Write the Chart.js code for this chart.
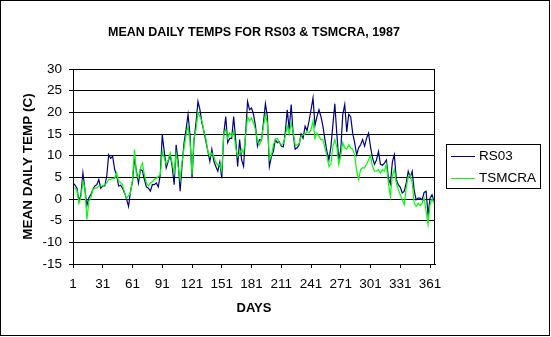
<!DOCTYPE html>
<html>
<head>
<meta charset="utf-8">
<script src="https://cdn.jsdelivr.net/npm/chart.js@4.4.0/dist/chart.umd.min.js"></script>
<style>
  html, body { margin: 0; padding: 0; background: #fff; }
  #wrap { position: relative; width: 551px; height: 337px; }
</style>
</head>
<body>
<div id="wrap"><canvas id="chart" width="551" height="337"></canvas></div>
<script>
// mean daily temps, every second day
const days = [
  1, 3, 5, 7, 9, 11, 13, 15, 17, 19, 21, 23, 25, 27, 29,
  31, 33, 35, 37, 39, 41, 43, 45, 47, 49, 51, 53, 55, 57, 59,
  61, 63, 65, 67, 69, 71, 73, 75, 77, 79, 81, 83, 85, 87, 89,
  91, 93, 95, 97, 99, 101, 103, 105, 107, 109, 111, 113, 115, 117, 119,
  121, 123, 125, 127, 129, 131, 133, 135, 137, 139, 141, 143, 145, 147, 149,
  151, 153, 155, 157, 159, 161, 163, 165, 167, 169, 171, 173, 175, 177, 179,
  181, 183, 185, 187, 189, 191, 193, 195, 197, 199, 201, 203, 205, 207, 209,
  211, 213, 215, 217, 219, 221, 223, 225, 227, 229, 231, 233, 235, 237, 239,
  241, 243, 245, 247, 249, 251, 253, 255, 257, 259, 261, 263, 265, 267, 269,
  271, 273, 275, 277, 279, 281, 283, 285, 287, 289, 291, 293, 295, 297, 299,
  301, 303, 305, 307, 309, 311, 313, 315, 317, 319, 321, 323, 325, 327, 329,
  331, 333, 335, 337, 339, 341, 343, 345, 347, 349, 351, 353, 355, 357, 359,
  361, 363, 365
];

const rs03 = [
  3.7, 3.2, 2.5, -0.5, 1, 6, 2.2, -1.5, 0.3, 1, 2.2, 3, 3.3, 4.5, 2.5,
  3, 3, 5.2, 10.2, 9.4, 9.8, 6.8, 5.5, 3, 3.2, 2.5, 1.4, 0, -1.7, 1.8,
  4, 9.5, 6.4, 3.7, 6.8, 6.5, 4.5, 2.8, 2.5, 1.8, 3.3, 3.3, 3.7, 2.8, 5.6,
  14.8, 11, 7.2, 8.7, 10.2, 7.5, 3.3, 12.5, 8.7, 1.8, 8, 13, 16, 19.5, 14.8,
  4.8, 13.5, 17.5, 22.5, 20.6, 17.5, 15.6, 13.3, 11, 8.7, 11.5, 8.7, 7.5, 6.4, 8.5,
  4.8, 15, 19, 13, 14, 14, 19, 13.7, 7.5, 13.7, 9, 7.5, 15, 22.5, 20.6,
  21, 19.5, 16.8, 12.2, 13.7, 13.5, 17.5, 22, 19, 7.5, 9.8, 11, 13.7, 13, 13.2,
  12.2, 12, 15.2, 20.6, 16, 21.8, 15, 11.5, 11.8, 12.5, 15, 14, 16.8, 15.8, 18,
  20.6, 23.3, 17, 19, 20.6, 19, 16.8, 13.7, 11, 9, 12, 17, 22, 15, 9,
  11.4, 19.5, 21.8, 15.5, 19.5, 19, 15.2, 13, 10.2, 11.8, 12.5, 13.7, 12.2, 14, 15.2,
  12, 9.5, 8, 9, 11, 8, 7.8, 8.3, 9, 4.8, 3.5, 8.5, 10.2, 4.5, 3.3,
  2.7, 1.4, 1.8, 3.7, 6.4, 5, 6.4, 2, -0.2, 0.2, 0.2, -0.2, 1.5, 1.8, -3.6,
  0.2, 1, -0.5
];

const tsmcra = [
  2.5, 2.5, 2, -1, 0.5, 4, 2.5, -4.8, -0.5, 0.3, 2.2, 2.5, 2.5, 3, 3,
  3, 3.3, 3.7, 4.5, 4.5, 4.7, 4.8, 6, 4, 3.8, 3.3, 1.4, 0.2, 0.8, 1.4,
  4.5, 11.4, 5.5, 4.8, 7.2, 8.3, 5.6, 3.7, 3, 3.7, 4, 4.5, 4.8, 5.2, 5.6,
  11, 9.5, 8, 9, 10.6, 8.3, 6, 10.6, 7.5, 4.5, 8.7, 11.8, 14.8, 16.8, 13.3,
  5.6, 14, 16, 20, 19, 18, 15.6, 14, 11, 9.8, 10.6, 9.8, 8.5, 7.8, 8,
  6.4, 15, 16, 14, 15.2, 14.5, 15.6, 12, 9.8, 10.5, 11.5, 10.6, 14.5, 19, 18,
  18.7, 17.5, 16, 13.3, 12.5, 13.7, 16.8, 19.5, 17.5, 9, 10, 12.5, 13.7, 14, 13,
  12.5, 12.8, 14.5, 16.8, 15, 17.5, 15.5, 12.5, 12.5, 12.8, 14.5, 14.8, 15, 15.6, 15.2,
  16, 18, 14, 15.2, 14.5, 13.7, 13.7, 11.8, 10, 7.5, 8, 12.2, 13.7, 12, 8,
  10, 13, 11.8, 11.5, 12.5, 11.8, 11.5, 10.2, 6.5, 4.5, 6.8, 7.2, 7.2, 8, 9,
  10, 7.5, 6.4, 6.4, 6.8, 6, 6.8, 6.4, 8, 3.7, 0.6, 5.5, 6.8, 3.7, 2.2,
  1, -0.2, -1.3, 2.5, 5.2, 5.5, 3.7, -1, -1.7, -1, -1.5, -1, 0.2, -2.8, -5.9,
  -1.3, 0, -1
];

const dayTicks = [1, 31, 61, 91, 121, 151, 181, 211, 241, 271, 301, 331, 361];
const tempTicks = [-15, -10, -5, 0, 5, 10, 15, 20, 25, 30];

const FONT = "'Liberation Sans', Arial, sans-serif";

// frame, plot box, main title and the boxed legend on the right
const chartFrame = {
  id: 'chartFrame',
  afterDraw(chart) {
    const ctx = chart.ctx;
    const a = chart.chartArea;
    ctx.save();
    ctx.strokeStyle = '#000';
    ctx.lineWidth = 1;
    ctx.strokeRect(0.5, 0.5, 549, 335);
    ctx.strokeRect(Math.round(a.left) + 0.5, Math.round(a.top) + 0.5,
      Math.round(a.right - a.left) - 1, Math.round(a.bottom - a.top));

    ctx.fillStyle = '#000';
    ctx.font = 'bold 12.5px ' + FONT;
    ctx.textAlign = 'center';
    ctx.textBaseline = 'middle';
    ctx.fillText('MEAN DAILY TEMPS FOR RS03 & TSMCRA, 1987', 254, 33);

    // legend
    ctx.strokeRect(446.5, 144.5, 94, 44);
    ctx.font = '13.5px ' + FONT;
    ctx.textAlign = 'left';
    const rows = [156, 178];
    chart.data.datasets.forEach((ds, i) => {
      const y = rows[i] + 0.5;
      ctx.strokeStyle = ds.borderColor;
      ctx.beginPath();
      ctx.moveTo(451, y);
      ctx.lineTo(475, y);
      ctx.stroke();
      ctx.fillText(ds.label, 479, rows[i] + 0.5);
    });
    ctx.restore();
  }
};

const toPoints = vals => days.map((d, i) => ({ x: d, y: vals[i] }));

new Chart(document.getElementById('chart'), {
  type: 'line',
  data: {
    datasets: [
      { label: 'RS03', data: toPoints(rs03), borderColor: '#000080', borderWidth: 1.2,
        pointRadius: 0, tension: 0, fill: false, order: 1 },
      { label: 'TSMCRA', data: toPoints(tsmcra), borderColor: '#00ff00', borderWidth: 1.2,
        pointRadius: 0, tension: 0, fill: false, order: 0 }
    ]
  },
  options: {
    responsive: false,
    animation: false,
    events: [],
    layout: { padding: { top: 69, right: 116, left: 0, bottom: 0 } },
    plugins: { legend: { display: false }, tooltip: { enabled: false }, title: { display: false } },
    scales: {
      x: {
        type: 'linear', min: 1, max: 366,
        afterBuildTicks: s => { s.ticks = dayTicks.map(v => ({ value: v })); },
        afterFit: s => { s.height = 73; },
        grid: { drawOnChartArea: false, drawTicks: true, tickLength: 4, color: '#000' },
        border: { display: true, color: '#000', width: 1 },
        ticks: { color: '#000', font: { family: FONT, size: 13.5 }, padding: 8,
                 maxRotation: 0, autoSkip: false },
        title: { display: true, text: 'DAYS', color: '#000',
                 font: { family: FONT, size: 13, weight: 'bold' }, padding: { top: 0, bottom: 21 } }
      },
      y: {
        min: -15, max: 30,
        afterBuildTicks: s => { s.ticks = tempTicks.map(v => ({ value: v })); },
        afterFit: s => { s.width = 73; },
        grid: { color: '#000', tickLength: 4 },
        border: { display: true, color: '#000', width: 1 },
        ticks: { color: '#000', font: { family: FONT, size: 13.5 }, padding: 7 },
        title: { display: true, text: 'MEAN DAILY TEMP (C)', color: '#000',
                 font: { family: FONT, size: 13.5, weight: 'bold' }, padding: { top: 20, bottom: 0 } }
      }
    }
  },
  plugins: [chartFrame]
});
</script>
</body>
</html>
